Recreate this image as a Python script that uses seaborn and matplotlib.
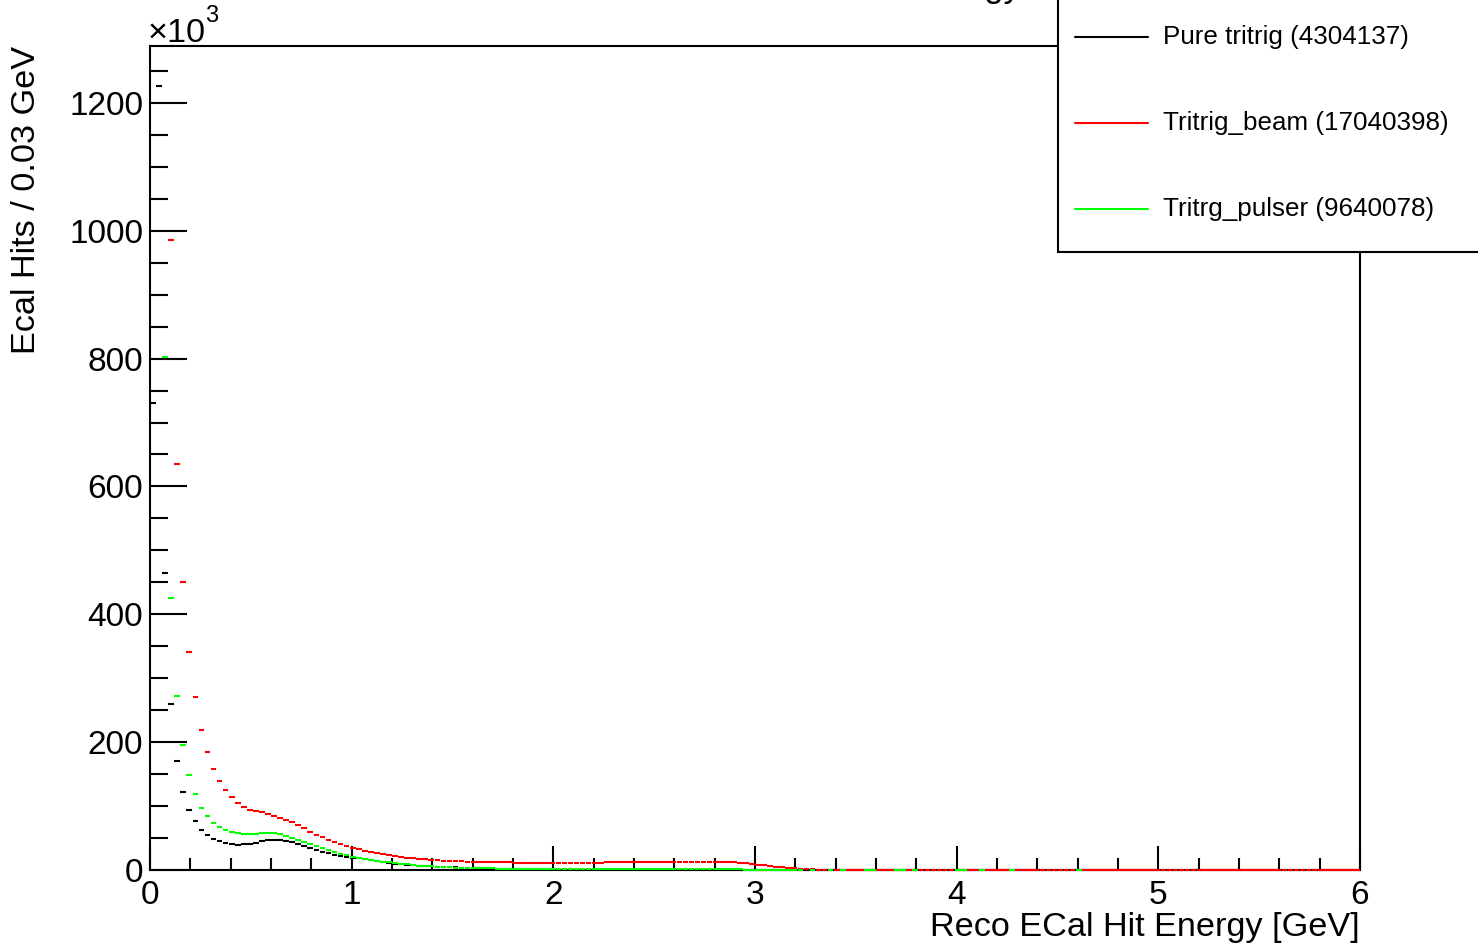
import numpy as np
import pandas as pd
import matplotlib
matplotlib.use("Agg")
import matplotlib.pyplot as plt
import seaborn as sns
from matplotlib.lines import Line2D
from matplotlib.patches import Rectangle
from matplotlib.ticker import MultipleLocator

sns.set_style("white")
plt.rcParams["font.family"] = ["Liberation Sans", "DejaVu Sans"]
plt.rcParams["text.color"] = "black"
plt.rcParams["axes.labelcolor"] = "black"
plt.rcParams["xtick.color"] = "black"
plt.rcParams["ytick.color"] = "black"

# Histogram binning: 200 bins of 0.03 GeV from 0 to 6 GeV
BIN_WIDTH = 0.03
N_BINS = 200
Y_MAX = 1289  # top of the frame, in 10^3 hits

nan = np.nan

# Bin contents in units of 10^3 hits (first bins of beam/pulser exceed the axis range)
pure_tritrig = [
    731, 1227, 465, 259, 170, 122, 94.4, 76, 63, 54.8,
    48.5, 45.4, 42.3, 40.7, 39.6, 40.0, 41.0, 42.7, 45.4, 47.0,
    47.4, 47.0, 45.9, 43.8, 40.7, 38.0, 34.9, 31.3, 28.6, 26.0,
    24.0, 22.0, 21.0, 19.5, 18.0, 16.5, 15.0, 13.5, 12.0, 10.8,
    9.8, 9.0, 8.2, 7.4, 6.7, 6.1, 5.6, 5.1, 4.7, 4.3,
    4.0, 3.6, 3.3, 3.0, 2.8, 2.6, 2.4, 2.2, 2.0, 1.8,
    1.7, 1.5, 1.4, 1.3, 1.2, 1.1, 1.0, 0.9, 0.8, 0.8,
    0.7, 0.7, 0.6, 0.6, 0.5, 0.5, 0.5, 0.4, 0.4, 0.4,
    0.3, 0.3, 0.3, 0.3, 0.3, 0.3, 0.3, 0.3, 0.3, 0.3,
    0.3, 0.3, 0.3, 0.3, 0.3, 0.2, 0.2, 0.2, 0.2, 0.2,
    0.2, 0.1, 0.1, 0.1, 0.1, 0.1, 0.1, 0.1, 0, 0,
    0, 0, 0, 0, 0, 0, 0, 0, 0, 0,
    0, 0, 0, 0, 0, 0, 0, 0, 0, 0,
    0, 0, 0, 0, 0, 0, 0, 0, 0, 0,
    0, 0, 0, 0, 0, 0, 0, 0, 0, 0,
    0, 0, 0, 0, 0, 0, 0, 0, 0, 0,
    0, 0, 0, 0, 0, 0, 0, 0, 0, 0,
    0, 0, 0, 0, 0, 0, 0, 0, 0, 0,
    0, 0, 0, 0, 0, 0, 0, 0, 0, 0,
    0, 0, 0, 0, 0, 0, 0, 0, 0, 0,
]

tritrig_beam = [
    2350, 3150, 1650, 985, 635, 451, 341, 270, 219, 184,
    158, 139, 125, 114, 105, 99, 94, 92, 90, 87.6,
    85, 82, 78.7, 75, 70.4, 65, 60, 54.8, 51, 47.4,
    43.8, 40, 37.5, 35, 32.5, 30.5, 28.5, 26.5, 25, 23.5,
    22, 20.8, 19.5, 18.4, 17.4, 16.6, 15.9, 15.2, 14.7, 14.2,
    13.8, 13.4, 13.0, 12.7, 12.4, 12.2, 12.0, 11.9, 11.8, 11.8,
    11.7, 11.7, 11.6, 11.6, 11.6, 11.5, 11.5, 11.5, 11.5, 11.5,
    11.6, 11.6, 11.6, 11.7, 11.7, 11.8, 11.8, 11.9, 11.9, 12.0,
    12.0, 12.1, 12.1, 12.2, 12.2, 12.3, 12.3, 12.3, 12.4, 12.4,
    12.4, 12.4, 12.3, 12.3, 12.2, 12.0, 11.8, 11.5, 10.5, 9.5,
    8.5, 7.5, 6.3, 5.3, 4.2, 3.2, 2.4, 1.9, 1.3, 0.8,
    0.5, 0.3, 0.2, 0.1, 0, 0, 0, 0, 0, 0,
    0, 0, 0, 0, 0, 0, 0, 0, 0, 0,
    0, 0, 0, 0, 0, 0, 0, 0, 0, 0,
    0, 0, 0, 0, 0, 0, 0, 0, 0, 0,
    0, 0, 0, 0, 0, 0, 0, 0, 0, 0,
    0, 0, 0, 0, 0, 0, 0, 0, 0, 0,
    0, 0, 0, 0, 0, 0, 0, 0, 0, 0,
    0, 0, 0, 0, 0, 0, 0, 0, 0, 0,
    0, 0, 0, 0, 0, 0, 0, 0, 0, 0,
]

tritrg_pulser = [
    1500, 2700, 802, 425, 272, 195, 148, 119, 97.5, 84,
    73.5, 67, 62.6, 59, 57.4, 56.8, 55.9, 56.3, 57.4, 57.9,
    57.4, 56.3, 53.7, 50.5, 47.4, 44.3, 40.7, 37, 34, 30.8,
    28.2, 25, 23.5, 21, 19.5, 17.8, 16.2, 14.6, 13, 11.8,
    10.6, 9.6, 8.7, 7.8, 7.0, 6.3, 5.7, 5.2, 4.7, 4.3,
    3.9, 3.6, 3.3, 3.0, 2.8, 2.6, 2.4, 2.2, 2.1, 1.9,
    1.8, 1.7, 1.6, 1.5, 1.4, 1.3, 1.25, 1.2, 1.15, 1.1,
    1.1, 1.05, 1.0, 1.0, 1.0, 0.95, 0.95, 0.9, 0.9, 0.9,
    0.85, 0.85, 0.85, 0.8, 0.8, 0.8, 0.8, 0.8, 0.8, 0.8,
    0.8, 0.8, 0.8, 0.8, 0.8, 0.8, 0.8, 0.8, 0.7, 0.6,
    0.5, 0.4, 0.35, 0.3, 0.25, 0.2, 0.15, 0.1, nan, 0.05,
    nan, nan, 0.05, nan, 0.05, nan, nan, nan, 0.05, 0.05,
    nan, nan, nan, 0.05, 0.05, nan, 0.05, nan, nan, nan,
    nan, nan, nan, 0.05, 0.05, nan, nan, 0.05, nan, nan,
    nan, nan, 0.05, nan, nan, nan, nan, nan, nan, nan,
    nan, nan, nan, 0.05, nan, nan, nan, nan, nan, nan,
    nan, nan, nan, nan, nan, nan, nan, nan, nan, nan,
    nan, nan, nan, nan, nan, nan, nan, nan, nan, nan,
    nan, nan, nan, nan, nan, nan, nan, nan, nan, nan,
    nan, nan, nan, nan, nan, nan, nan, nan, nan, nan,
]

sample_names = ["Pure tritrig", "Tritrig_beam", "Tritrg_pulser"]
sample_entries = ["4304137", "17040398", "9640078"]
sample_colors = ["#000000", "#ff0000", "#00ff00"]
series = [pure_tritrig, tritrig_beam, tritrg_pulser]

y_ticks = [0, 200, 400, 600, 800, 1000, 1200]
x_ticks = [0, 1, 2, 3, 4, 5, 6]

bin_centers = (np.arange(N_BINS) + 0.5) * BIN_WIDTH
frames = []
for name, values in zip(sample_names, series):
    assert len(values) == N_BINS
    frames.append(pd.DataFrame({"energy": bin_centers,
                                "hits": np.asarray(values, dtype=float),
                                "sample": name}))
df = pd.concat(frames, ignore_index=True).dropna()
# Bins above the frame are not drawn (markers are left unclipped so the
# empty bins sit on top of the x axis line)
df = df[df["hits"] <= Y_MAX]

W, H = 1478, 947
fig = plt.figure(figsize=(W / 100, H / 100), dpi=100)
ax = fig.add_axes([150 / W, (H - 870) / H, 1210 / W, 824 / H])

sns.scatterplot(data=df, x="energy", y="hits", hue="sample",
                hue_order=sample_names, palette=sample_colors,
                marker="_", s=17, linewidth=1.5, legend=False, ax=ax,
                zorder=3, clip_on=False)

ax.set_xlim(0, 6)
ax.set_ylim(0, Y_MAX)
ax.set_xlabel("")
ax.set_ylabel("")

for side in ["left", "bottom", "right", "top"]:
    ax.spines[side].set_visible(True)
    ax.spines[side].set_linewidth(1.5)
    ax.spines[side].set_color("black")
    ax.spines[side].set_zorder(2)

ax.set_xticks(x_ticks)
ax.set_yticks(y_ticks)
ax.xaxis.set_minor_locator(MultipleLocator(0.2))
ax.yaxis.set_minor_locator(MultipleLocator(50))
ax.tick_params(axis="both", which="both", direction="in", top=False,
               right=False, left=True, bottom=True, width=1.5,
               color="black", labelcolor="black")
ax.tick_params(axis="y", which="major", length=26.5, labelsize=24, pad=5)
ax.tick_params(axis="y", which="minor", length=13)
ax.tick_params(axis="x", which="major", length=17.5, labelsize=24, pad=7)
ax.tick_params(axis="x", which="minor", length=8.6)

# Axis titles, ROOT-style placement
fig.text(1360 / W, 1 - 927 / H, "Reco ECal Hit Energy [GeV]",
         ha="right", va="center", fontsize=24.7)
fig.text(27 / W, 1 - 46 / H, "Ecal Hits / 0.03 GeV", rotation=90,
         ha="center", va="top", fontsize=24.7)

# Exponent marker for the y axis
fig.text(148 / W, 1 - 42 / H, "\u00d710", ha="left", va="baseline",
         fontsize=24.7)
fig.text(205 / W, 1 - 22 / H, "3", ha="left", va="baseline", fontsize=17)

# Histogram title (sits mostly above the canvas)
fig.text(1021 / W, 1 + 3 / H, "Reco ECal Hit Energy", ha="right",
         va="baseline", fontsize=25)

# Legend box
box = Rectangle((1058 / W, 1 - 252 / H), 0.5, 0.5, transform=fig.transFigure,
                facecolor="white", edgecolor="black", linewidth=1.5, zorder=10)
fig.add_artist(box)
for i, (name, entries, color) in enumerate(zip(sample_names, sample_entries,
                                                sample_colors)):
    yy = 1 - (37 + 86 * i) / H
    fig.add_artist(Line2D([1075 / W, 1148 / W], [yy, yy],
                          transform=fig.transFigure, color=color,
                          linewidth=1.5, zorder=11))
    fig.text(1163 / W, yy, f"{name} ({entries})", ha="left", va="center",
             fontsize=18.7, zorder=11)

fig.savefig("out.png", dpi=100)
